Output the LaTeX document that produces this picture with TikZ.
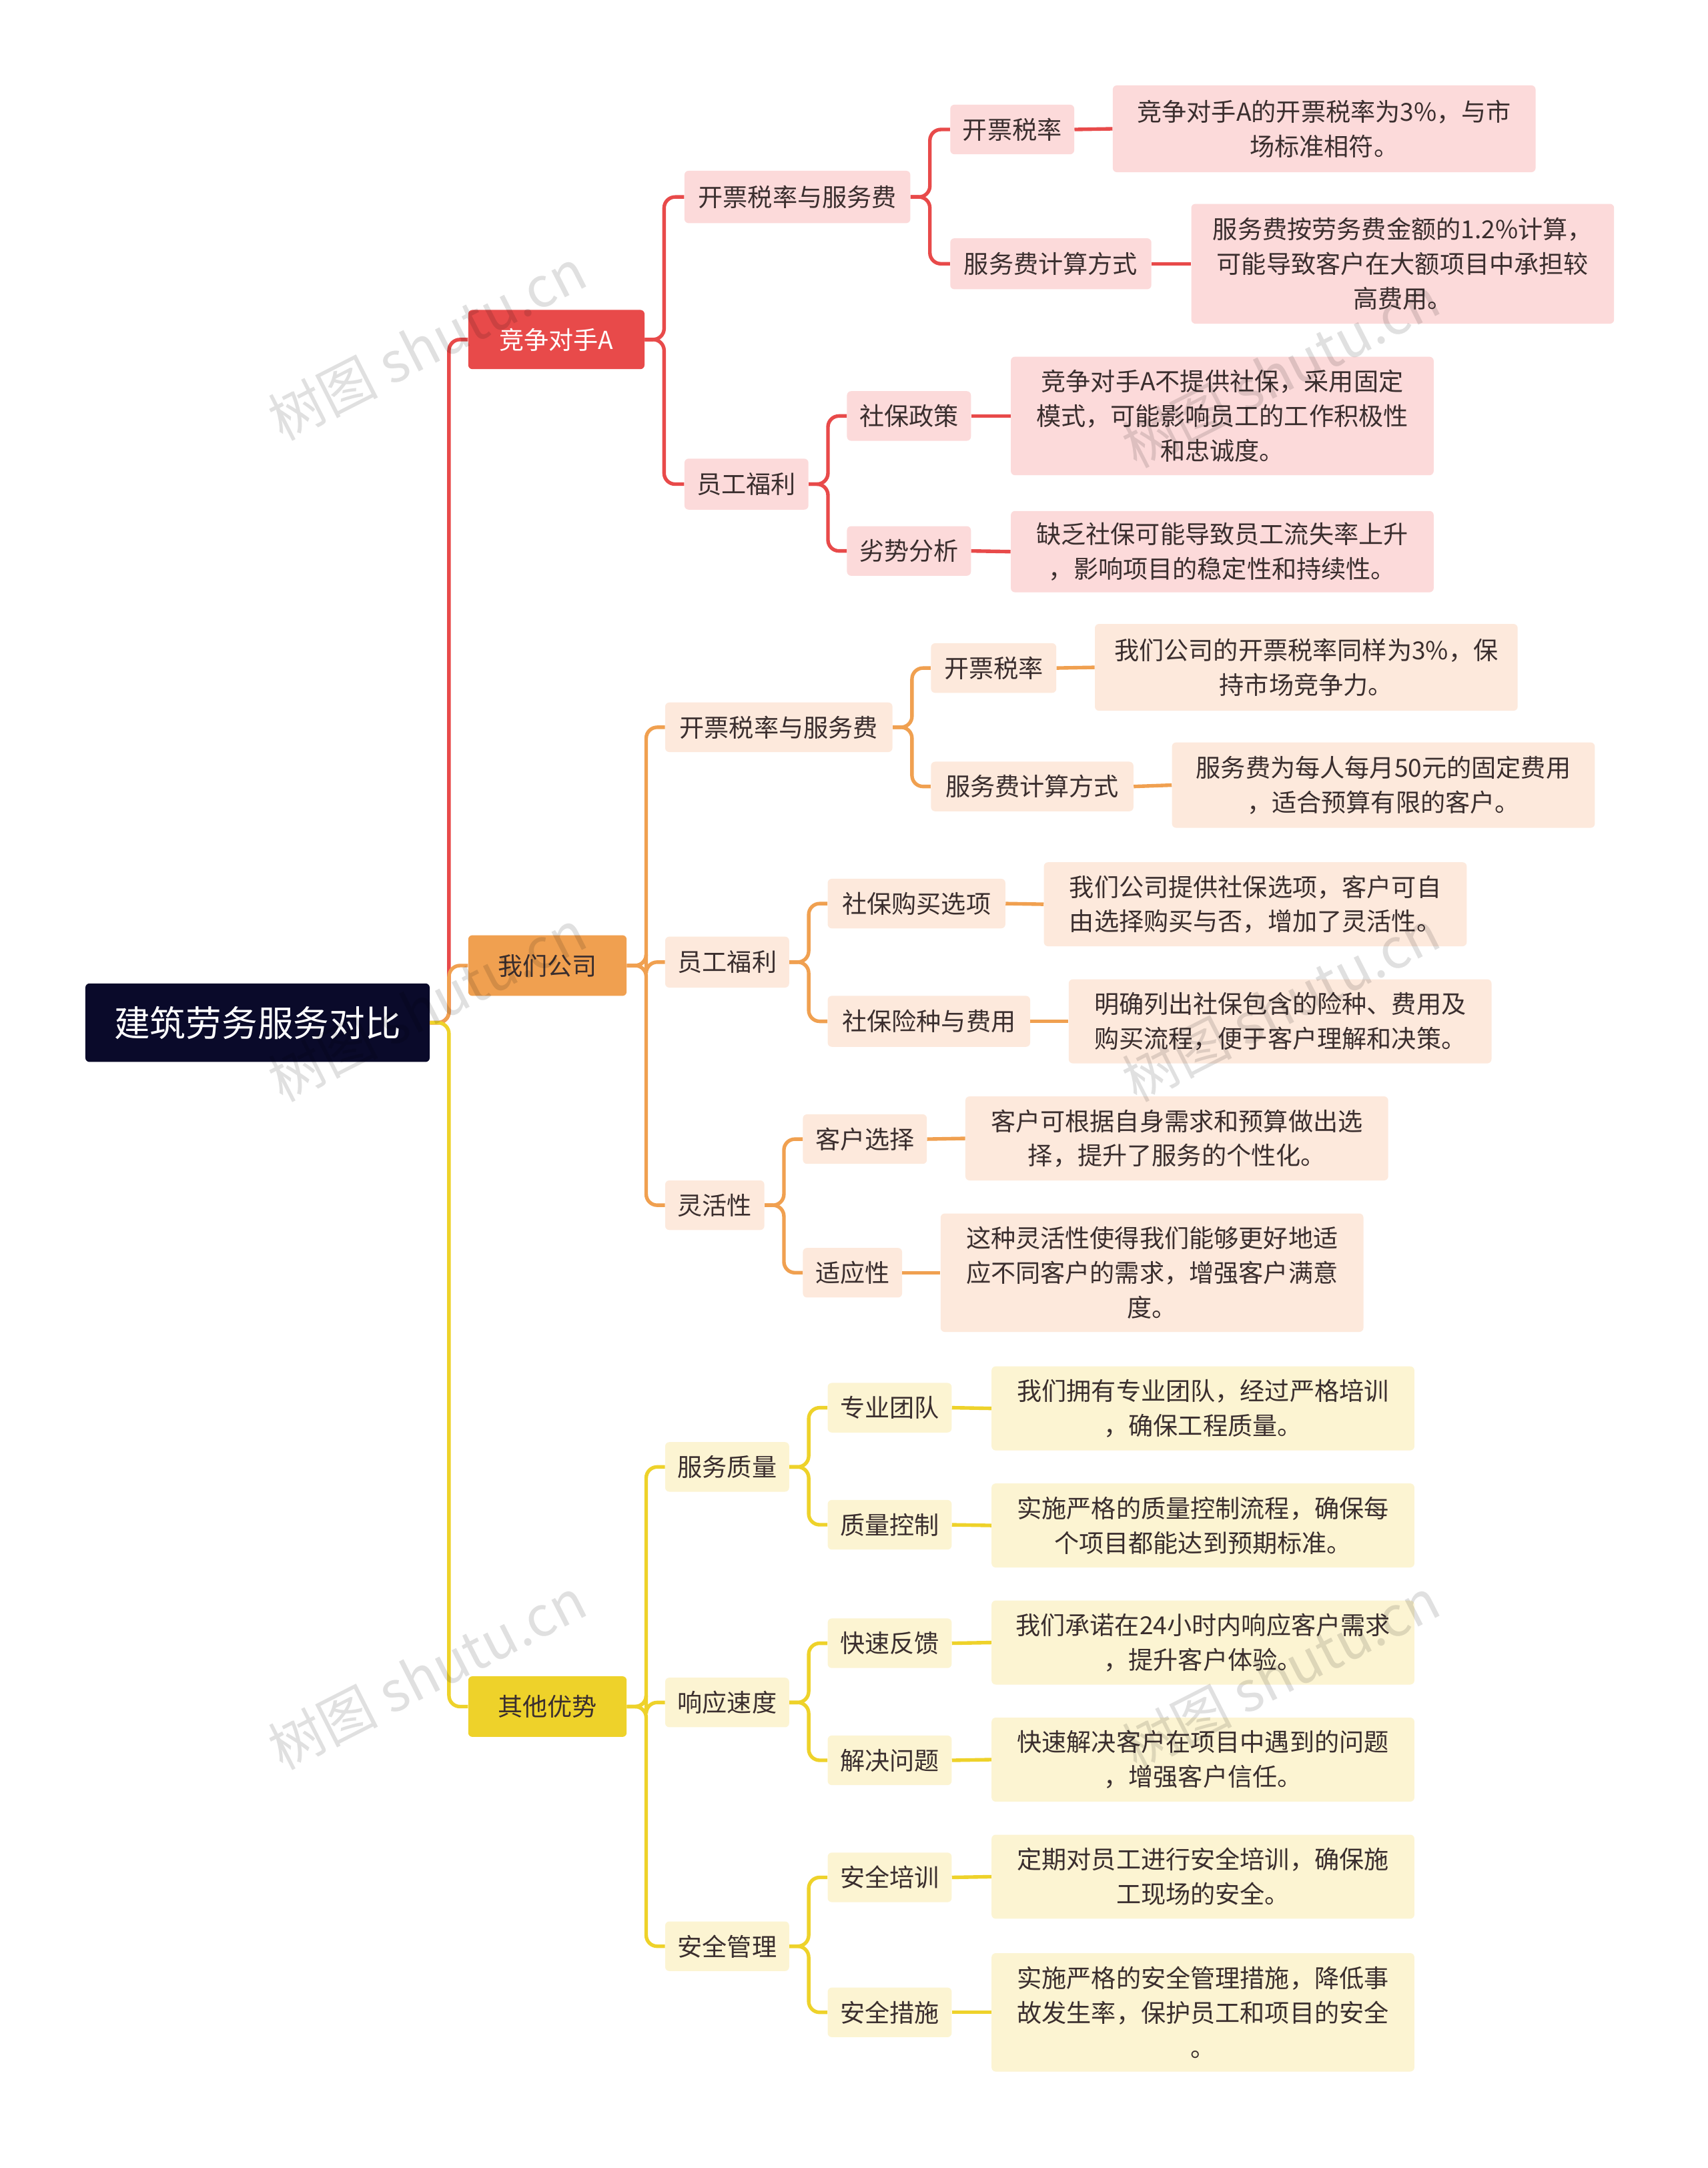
\documentclass[tikz,border=0pt]{standalone}
\usepackage{fontspec}
\setmainfont{Noto Sans CJK SC}
\definecolor{cR}{HTML}{E84A4A}\definecolor{cO}{HTML}{F0A050}\definecolor{cY}{HTML}{EED22A}
\definecolor{fR}{HTML}{FCDADA}\definecolor{fO}{HTML}{FDE9DC}\definecolor{fY}{HTML}{FCF4D2}
\definecolor{tx}{HTML}{3A2E2E}\definecolor{navy}{HTML}{0A0A2A}
\tikzset{
 bs/.style={rounded corners=3pt,inner sep=0pt,align=center,font=\fontsize{18}{25}\selectfont,text=tx},
 rb/.style={bs,fill=fR},ob/.style={bs,fill=fO},yb/.style={bs,fill=fY},
 ln/.style={line width=2.6pt,rounded corners=8pt},
 wm/.style={rotate=27,font=\fontsize{40}{40}\selectfont,text=black,opacity=0.12}
}
\newcommand{\bx}[7]{\node[#2,minimum width={(#5-#3)*1pt},minimum height={(#6-#4)*1pt}] (#1) at ({(#3+#5)/2},{-(#4+#6)/2}) {#7};}
\begin{document}
\begin{tikzpicture}[x=1pt,y=1pt]
\useasboundingbox[fill=white] (0,0) rectangle (1240,-1574);
\node[bs,fill=navy,text=white,font=\fontsize{26}{30}\selectfont,minimum width=250pt,minimum height=57pt] (root) at (187,-742.5) {建筑劳务服务对比};
\bx{A}{bs,fill=cR,text=white}{340}{225}{468}{268}{竞争对手A}
\bx{B}{bs,fill=cO}{340}{679}{455}{723}{我们公司}
\bx{C}{bs,fill=cY}{340}{1217}{455}{1261}{其他优势}
\foreach \c/\col in {A/cR,B/cO,C/cY} \draw[ln,\col] (root.east) -- (326,-742.5) |- (\c.west);
% A
\bx{A1}{rb}{497}{124}{661}{162}{开票税率与服务费}
\bx{A2}{rb}{497}{333}{587}{370}{员工福利}
\bx{A11}{rb}{690}{76}{780}{112}{开票税率}
\bx{A12}{rb}{690}{173}{836}{210}{服务费计算方式}
\bx{A21}{rb}{615}{284}{705}{320}{社保政策}
\bx{A22}{rb}{615}{382}{705}{418}{劣势分析}
\bx{A11l}{rb}{808}{62}{1115}{125}{竞争对手A的开票税率为3\%，与市\\场标准相符。}
\bx{A12l}{rb}{865}{148}{1172}{235}{服务费按劳务费金额的1.2\%计算，\\可能导致客户在大额项目中承担较\\高费用。}
\bx{A21l}{rb}{734}{259}{1041}{345}{竞争对手A不提供社保，采用固定\\模式，可能影响员工的工作积极性\\和忠诚度。}
\bx{A22l}{rb}{734}{371}{1041}{430}{缺乏社保可能导致员工流失率上升\\，影响项目的稳定性和持续性。}
\foreach \p/\c in {A/A1,A/A2,A1/A11,A1/A12,A2/A21,A2/A22} \draw[ln,cR] (\p.east) -- ++(14,0) |- (\c.west);
\foreach \p in {A11,A12,A21,A22} \draw[ln,cR] (\p.east) -- (\p l.west);
% B
\bx{B1}{ob}{483}{510}{648}{546}{开票税率与服务费}
\bx{B2}{ob}{483}{680}{573}{717}{员工福利}
\bx{B3}{ob}{483}{857}{555}{893}{灵活性}
\bx{B11}{ob}{676}{467}{767}{503}{开票税率}
\bx{B12}{ob}{676}{553}{823}{589}{服务费计算方式}
\bx{B21}{ob}{601}{638}{730}{674}{社保购买选项}
\bx{B22}{ob}{601}{723}{748}{760}{社保险种与费用}
\bx{B31}{ob}{583}{809}{673}{845}{客户选择}
\bx{B32}{ob}{583}{906}{655}{942}{适应性}
\bx{B11l}{ob}{795}{453}{1102}{516}{我们公司的开票税率同样为3\%，保\\持市场竞争力。}
\bx{B12l}{ob}{851}{539}{1158}{601}{服务费为每人每月50元的固定费用\\，适合预算有限的客户。}
\bx{B21l}{ob}{758}{626}{1065}{687}{我们公司提供社保选项，客户可自\\由选择购买与否，增加了灵活性。}
\bx{B22l}{ob}{776}{711}{1083}{772}{明确列出社保包含的险种、费用及\\购买流程，便于客户理解和决策。}
\bx{B31l}{ob}{701}{796}{1008}{857}{客户可根据自身需求和预算做出选\\择，提升了服务的个性化。}
\bx{B32l}{ob}{683}{881}{990}{967}{这种灵活性使得我们能够更好地适\\应不同客户的需求，增强客户满意\\度。}
\foreach \p/\c in {B/B1,B/B2,B/B3,B1/B11,B1/B12,B2/B21,B2/B22,B3/B31,B3/B32} \draw[ln,cO] (\p.east) -- ++(14,0) |- (\c.west);
\foreach \p in {B11,B12,B21,B22,B31,B32} \draw[ln,cO] (\p.east) -- (\p l.west);
% C
\bx{C1}{yb}{483}{1047}{573}{1083}{服务质量}
\bx{C2}{yb}{483}{1218}{573}{1254}{响应速度}
\bx{C3}{yb}{483}{1395}{573}{1431}{安全管理}
\bx{C11}{yb}{601}{1004}{691}{1040}{专业团队}
\bx{C12}{yb}{601}{1089}{691}{1125}{质量控制}
\bx{C21}{yb}{601}{1175}{691}{1211}{快速反馈}
\bx{C22}{yb}{601}{1260}{691}{1296}{解决问题}
\bx{C31}{yb}{601}{1345}{691}{1381}{安全培训}
\bx{C32}{yb}{601}{1443}{691}{1479}{安全措施}
\bx{C11l}{yb}{720}{992}{1027}{1053}{我们拥有专业团队，经过严格培训\\，确保工程质量。}
\bx{C12l}{yb}{720}{1077}{1027}{1138}{实施严格的质量控制流程，确保每\\个项目都能达到预期标准。}
\bx{C21l}{yb}{720}{1162}{1027}{1223}{我们承诺在24小时内响应客户需求\\，提升客户体验。}
\bx{C22l}{yb}{720}{1247}{1027}{1308}{快速解决客户在项目中遇到的问题\\，增强客户信任。}
\bx{C31l}{yb}{720}{1332}{1027}{1393}{定期对员工进行安全培训，确保施\\工现场的安全。}
\bx{C32l}{yb}{720}{1418}{1027}{1504}{实施严格的安全管理措施，降低事\\故发生率，保护员工和项目的安全\\。}
\foreach \p/\c in {C/C1,C/C2,C/C3,C1/C11,C1/C12,C2/C21,C2/C22,C3/C31,C3/C32} \draw[ln,cY] (\p.east) -- ++(14,0) |- (\c.west);
\foreach \p in {C11,C12,C21,C22,C31,C32} \draw[ln,cY] (\p.east) -- (\p l.west);
% watermarks
\foreach \wx/\wy [count=\i] in {310/-250,310/-730,310/-1215,930/-270,930/-730,930/-1215}
  \node[wm] (w\i) at (\wx,\wy) {树图 shutu.cn};
\end{tikzpicture}
\end{document}
